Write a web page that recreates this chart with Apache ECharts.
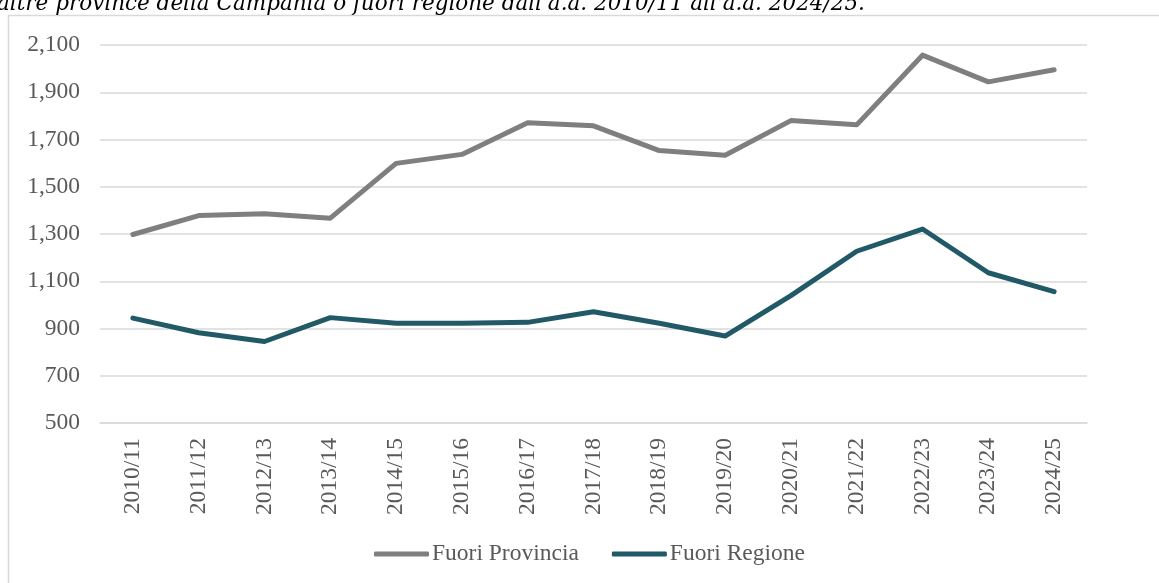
<!DOCTYPE html>
<html>
<head>
<meta charset="utf-8">
<script src="https://cdn.jsdelivr.net/npm/echarts@6/dist/echarts.min.js"></script>
<style>
html,body{margin:0;padding:0;background:#fff;}
#chart{width:1159px;height:583px;}
</style>
</head>
<body>
<div id="chart"></div>
<script>
var categories = ['2010/11','2011/12','2012/13','2013/14','2014/15','2015/16','2016/17','2017/18','2018/19','2019/20','2020/21','2021/22','2022/23','2023/24','2024/25'];
var fuoriProvincia = [1298, 1378, 1386, 1367, 1599, 1637, 1771, 1758, 1653, 1633, 1780, 1762, 2057, 1944, 1995];
var fuoriRegione = [944, 882, 845, 946, 922, 922, 926, 971, 922, 868, 1039, 1227, 1321, 1136, 1056];
var yTicks = {min: 500, max: 2100, interval: 200};
var titleText = "altre province della Campania o fuori regione dall'a.a. 2010/11 all'a.a. 2024/25.";

var chart = echarts.init(document.getElementById('chart'), null, {renderer: 'canvas'});
var serif = 'Liberation Serif';
chart.setOption({
  animation: false,
  backgroundColor: '#ffffff',
  graphic: [
    {type: 'rect', shape: {x: 8.5, y: 15.5, width: 1300, height: 700}, style: {fill: 'none', stroke: '#d9d9d9', lineWidth: 1.5}, z: -1},
    {type: 'text', x: -3, y: 15, style: {text: titleText, font: 'italic 21.5px "DejaVu Serif"', fill: '#000000', verticalAlign: 'bottom'}}
  ],
  grid: {left: 100, right: 72, top: 45, bottom: 160, containLabel: false},
  legend: {
    data: ['Fuori Provincia', 'Fuori Regione'],
    bottom: 12,
    left: 369,
    icon: 'roundRect',
    itemWidth: 55,
    itemHeight: 5,
    itemGap: 33,
    textStyle: {fontFamily: serif, fontSize: 23.5, color: '#595959', padding: [0,0,0,-2]}
  },
  xAxis: {
    type: 'category',
    data: categories,
    boundaryGap: true,
    axisLine: {show: true, lineStyle: {color: '#d9d9d9', width: 1.5}},
    axisTick: {show: false},
    axisLabel: {rotate: 90, margin: 15, fontFamily: serif, fontSize: 23.5, color: '#595959', interval: 0}
  },
  yAxis: {
    type: 'value',
    min: yTicks.min,
    max: yTicks.max,
    interval: yTicks.interval,
    axisLine: {show: false},
    axisTick: {show: false},
    splitLine: {lineStyle: {color: '#d9d9d9', width: 1.5}},
    axisLabel: {margin: 20, fontFamily: serif, fontSize: 23.5, color: '#595959',
      formatter: function (v) { return v.toLocaleString('en-US'); }}
  },
  series: [
    {name: 'Fuori Provincia', type: 'line', data: fuoriProvincia, symbol: 'none',
      color: '#7f7f7f', lineStyle: {width: 5, color: '#7f7f7f', cap: 'round', join: 'round'}},
    {name: 'Fuori Regione', type: 'line', data: fuoriRegione, symbol: 'none',
      color: '#215967', lineStyle: {width: 5, color: '#215967', cap: 'round', join: 'round'}}
  ]
});
</script>
</body>
</html>
